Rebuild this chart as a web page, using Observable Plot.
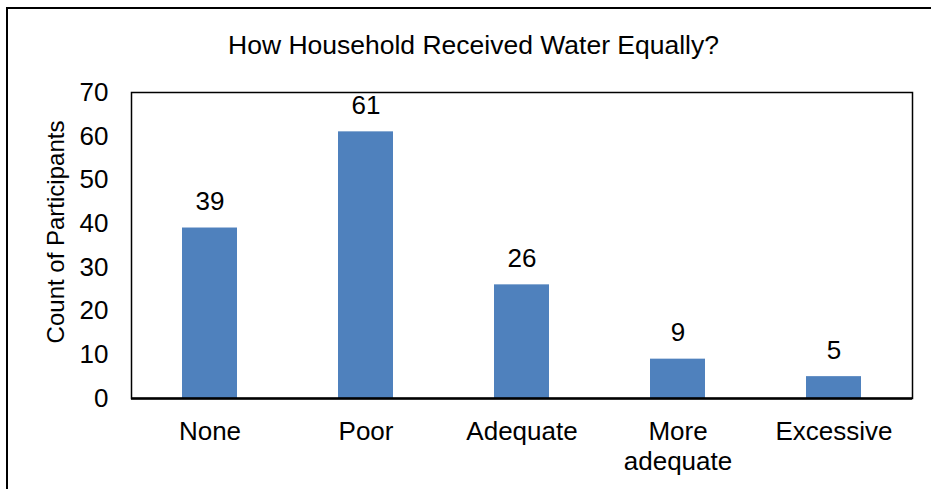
<!DOCTYPE html>
<html>
<head>
<meta charset="utf-8">
<script src="https://cdn.jsdelivr.net/npm/d3@7"></script>
<script src="https://cdn.jsdelivr.net/npm/@observablehq/plot@0.6"></script>
<style>
  html, body { margin: 0; padding: 0; background: #fff; }
</style>
</head>
<body>
<div id="chart"></div>
<script>
// Survey responses: how equally households received water
const categories = ["None", "Poor", "Adequate", "More adequate", "Excessive"];
const counts = [39, 61, 26, 9, 5];
const yTicks = [0, 10, 20, 30, 40, 50, 60, 70];
const chartTitle = "How Household Received Water Equally?";
const yTitle = "Count of Participants";

const data = categories.map((c, i) => ({category: c, count: counts[i]}));
const font = "'Liberation Sans', Arial, sans-serif";

const plot = Plot.plot({
  width: 931,
  height: 489,
  marginLeft: 131,
  marginRight: 19,
  marginTop: 92,
  marginBottom: 91,
  style: {fontFamily: font, fontSize: "26px", color: "#000", background: "#fff"},
  x: {domain: categories, paddingInner: 0.65, paddingOuter: 0.325, axis: null},
  y: {domain: [0, 70], ticks: yTicks, label: null},
  marks: [
    Plot.barY(data, {x: "category", y: "count", fill: "#4F81BD"}),
    Plot.frame({stroke: "#000", strokeWidth: 1.5}),
    Plot.ruleY([0], {stroke: "#000", strokeWidth: 2.5}),
    Plot.axisY({ticks: yTicks, tickSize: 0, tickPadding: 23, label: null, fontSize: 26}),
    // category labels under the bars (two-line for "More adequate")
    Plot.text(data, {
      x: "category",
      text: d => d.category.replace(" ", "\n"),
      frameAnchor: "bottom",
      lineAnchor: "top",
      lineHeight: 1.15,
      dy: 20.5,
      fontSize: 26,
      fill: "#000"
    }),
    // value labels above each bar
    Plot.text(data, {
      x: "category",
      y: "count",
      text: d => String(d.count),
      lineAnchor: "middle",
      dy: -26,
      fontSize: 26,
      fill: "#000"
    }),
    // chart title
    Plot.text([chartTitle], {
      frameAnchor: "top",
      textAnchor: "middle",
      lineAnchor: "middle",
      dx: -48.5,
      dy: -47,
      fontSize: 26.5,
      fill: "#000"
    }),
    // y-axis title
    Plot.text([yTitle], {
      frameAnchor: "left",
      textAnchor: "middle",
      lineAnchor: "middle",
      rotate: -90,
      dx: -74.7,
      dy: -13.5,
      fontSize: 24,
      fill: "#000"
    })
  ]
});

// outer chart-area border
d3.select(plot)
  .append("path")
  .attr("d", "M7,489V8H931")
  .attr("fill", "none")
  .attr("stroke", "#000")
  .attr("stroke-width", 2);

document.getElementById("chart").append(plot);
</script>
</body>
</html>
